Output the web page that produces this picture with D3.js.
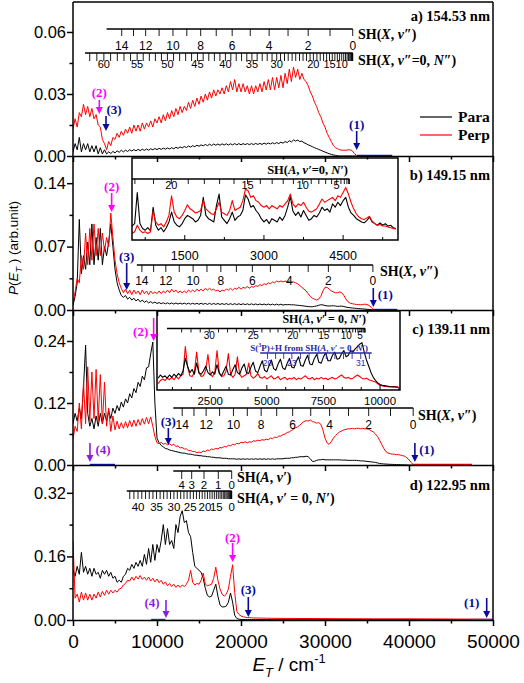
<!DOCTYPE html>
<html><head><meta charset="utf-8">
<script src="https://cdn.jsdelivr.net/npm/d3@7/dist/d3.min.js"></script>
<style>
body{margin:0;background:#fff;}
svg{display:block;}
.num{font-family:"Liberation Sans",Arial,sans-serif;}
.ser{font-family:"Liberation Serif","Times New Roman",serif;font-weight:bold;}
</style></head><body>
<svg id="fig" width="524" height="683"></svg>
<script>
// ---------------- DATA ----------------
// main spectra: step 250 cm-1 starting at 0
const paraA=[.002,.006,.003,.009,.002,.006,.003,.006,.002,.005,.002,.005,.001,.004,.001,.003,.001,.002,.0012,.0022,.0015,.0025,.0018,.0028,.002,.0028,.0022,.003,.0024,.0031,.0025,.0032,.0026,.0033,.0027,.0034,.0028,.0035,.003,.0036,.0031,.0037,.0032,.0038,.0033,.0039,.0034,.004,.0035,.0042,.0037,.0044,.0039,.0046,.0041,.0048,.0043,.005,.0045,.0052,.0047,.0054,.0049,.0056,.005,.0057,.0051,.0058,.0052,.0058,.0052,.0059,.0053,.0059,.0053,.0059,.0054,.006,.0054,.006,.0054,.006,.0055,.006,.0055,.006,.0055,.0061,.0056,.0061,.0056,.0062,.0057,.0063,.0058,.0064,.0059,.0065,.006,.0067,.0062,.007,.0065,.0074,.0068,.0078,.0072,.0077,.007,.0072,.0064,.006,.0054,.005,.0045,.004,.0036,.0032,.0028,.0023,.0019,.0015,.0011,.0008,.0005,.0003,.0001,0,0,0,0,0,0,0,0,0,0];
const perpA=[.013,.018,.014,.021,.019,.025,.020,.024,.019,.023,.018,.020,.015,.014,.008,.006,.003,.007,.005,.009,.008,.011,.009,.012,.010,.013,.011,.014,.011,.015,.012,.015,.012,.016,.013,.016,.014,.017,.014,.018,.016,.019,.016,.020,.017,.021,.018,.022,.019,.023,.020,.024,.021,.024,.022,.026,.023,.027,.024,.028,.025,.029,.026,.030,.027,.031,.028,.032,.029,.032,.030,.033,.030,.034,.031,.036,.032,.037,.031,.035,.031,.035,.031,.034,.030,.034,.030,.034,.031,.035,.031,.036,.032,.037,.032,.038,.032,.038,.033,.039,.033,.040,.035,.042,.036,.043,.038,.042,.037,.040,.037,.036,.034,.031,.029,.026,.024,.021,.019,.016,.014,.011,.009,.007,.005,.004,.0035,.003,.0028,.0028,.0028,.003,.003,.0025,.0012,.0003,0];
const paraB=[.005,.015,.03,.1,.04,.06,.045,.075,.05,.095,.05,.08,.055,.09,.05,.07,.06,.075,.095,.07,.045,.03,.022,.016,.014,.016,.012,.014,.011,.013,.010,.012,.009,.011,.0085,.010,.0078,.0092,.0075,.0088,.0072,.0082,.007,.0080,.0068,.0079,.0067,.0078,.0066,.0077,.0066,.0076,.0065,.0076,.0065,.0075,.0064,.0075,.0064,.0074,.0063,.0074,.0063,.0073,.0062,.0073,.0062,.0072,.0062,.0072,.0061,.0071,.0061,.0071,.006,.007,.006,.007,.006,.0069,.0059,.0069,.0059,.0068,.0058,.0068,.0058,.0067,.0057,.0067,.0057,.0066,.0056,.0066,.0056,.0065,.0055,.0065,.0055,.0064,.0054,.006,.0058,.006,.0057,.0058,.0054,.0052,.005,.0047,.0044,.0041,.0038,.0036,.0036,.004,.0045,.0052,.0058,.0056,.005,.0045,.0044,.0046,.0047,.0044,.004,.0042,.0043,.0038,.0032,.0028,.0025,.0022,.002,.0018,.0016,.0014,.0012,.001,.0008,.0006,.0004,.0001,0];
const perpB=[.008,.02,.035,.03,.06,.045,.085,.05,.09,.055,.095,.06,.09,.06,.085,.065,.08,.07,.107,.08,.055,.04,.03,.024,.019,.023,.018,.022,.017,.022,.018,.021,.017,.022,.018,.021,.017,.021,.018,.02,.018,.021,.018,.021,.019,.022,.019,.023,.02,.022,.019,.021,.019,.021,.019,.022,.02,.022,.02,.023,.021,.023,.021,.024,.022,.024,.022,.023,.021,.022,.02,.022,.021,.023,.022,.024,.022,.024,.023,.025,.023,.025,.024,.026,.024,.026,.025,.027,.026,.028,.027,.029,.028,.030,.029,.031,.03,.032,.031,.032,.031,.032,.031,.032,.031,.031,.03,.029,.027,.025,.023,.021,.018,.015,.013,.012,.011,.012,.015,.021,.025,.025,.023,.021,.02,.019,.019,.02,.019,.016,.012,.009,.0075,.007,.0065,.006,.006,.0058,.006,.0065,.006,.005,.003,.0005,0];
const paraC=[.08,.1,.085,.11,.09,.15,.232,.1,.075,.09,.07,.095,.075,.1,.08,.1,.085,.105,.09,.11,.1,.115,.105,.122,.112,.128,.12,.138,.13,.148,.14,.16,.152,.172,.165,.188,.19,.215,.238,.12,.052,.043,.038,.035,.032,.031,.029,.028,.027,.026,.025,.024,.023,.023,.022,.021,.021,.02,.019,.019,.018,.018,.017,.017,.016,.016,.015,.015,.014,.014,.014,.013,.013,.013,.012,.012,.012,.012,.011,.012,.011,.012,.011,.012,.011,.012,.011,.012,.011,.012,.011,.012,.011,.012,.011,.012,.011,.012,.012,.012,.012,.013,.013,.013,.014,.014,.015,.015,.016,.016,.016,.017,.016,.012,.007,.007,.009,.010,.010,.011,.01,.01,.01,.01,.01,.01,.01,.01,.0095,.0095,.0095,.009,.009,.009,.009,.009,.0085,.008,.008,.0075,.007,.0065,.006,.0055,.005,.004,.003,.0025,.002,.0018,.0015,.0013,.0012,.001,.0009,.0008,.0007,.0006,.0004,.0002,0,0,0];
const perpC=[.05,.075,.065,.12,.07,.16,.08,.19,.085,.18,.09,.185,.085,.175,.08,.16,.075,.11,.065,.095,.068,.085,.07,.082,.071,.084,.072,.086,.074,.087,.075,.088,.077,.09,.079,.092,.08,.093,.075,.055,.043,.041,.044,.04,.042,.039,.041,.038,.04,.036,.037,.033,.034,.031,.031,.028,.028,.026,.026,.024,.025,.024,.027,.026,.029,.028,.031,.03,.032,.031,.034,.033,.036,.035,.038,.037,.04,.039,.042,.041,.044,.043,.045,.043,.045,.044,.047,.046,.048,.047,.049,.048,.05,.049,.052,.051,.054,.053,.056,.056,.059,.06,.063,.064,.067,.069,.072,.074,.077,.081,.084,.086,.085,.087,.084,.083,.081,.082,.079,.068,.052,.043,.040,.045,.052,.057,.061,.064,.066,.068,.069,.07,.07,.071,.07,.071,.071,.07,.071,.07,.07,.069,.066,.064,.06,.055,.048,.04,.032,.026,.023,.022,.021,.021,.02,.02,.019,.018,.017,.014,.01,.005,.0005,0,0];
const paraD=[.125,.11,.135,.115,.17,.12,.135,.115,.13,.11,.13,.115,.12,.105,.125,.115,.125,.11,.12,.105,.11,.095,.1,.095,.11,.115,.13,.125,.14,.13,.145,.135,.15,.135,.165,.14,.18,.145,.19,.15,.19,.17,.2,.24,.19,.23,.19,.2,.18,.24,.22,.26,.275,.245,.25,.22,.21,.17,.135,.13,.125,.12,.105,.08,.062,.058,.06,.075,.09,.06,.038,.033,.033,.035,.045,.068,.045,.012,.004,.002,.0015,.0013,.0012,.0012,.0012,.0012,.0011,.0011,.0011];
const perpD=[.2,.055,.065,.045,.07,.05,.068,.05,.065,.05,.065,.055,.07,.058,.072,.062,.075,.065,.075,.068,.075,.07,.078,.08,.088,.092,.1,.098,.108,.1,.11,.103,.112,.102,.108,.1,.108,.098,.105,.096,.103,.094,.1,.09,.096,.086,.092,.084,.09,.082,.088,.082,.088,.084,.09,.1,.125,.095,.088,.092,.09,.1,.118,.09,.086,.088,.09,.105,.133,.1,.078,.065,.06,.065,.078,.11,.139,.07,.022,.014,.01,.008,.007,.006,.006,.0055,.005,.005,.005];
const tailE=[23000,25000,30000,35000,40000,45000,50000];
const paraDTail=[.001,.001,.001,.0008,.0008,.0008,.0008];
const perpDTail=[.0045,.004,.0035,.003,.003,.0025,.002];
// inset b: 500..5500 step 50 (relative height)
const insParaB=[.17,.20,.58,.20,.14,.12,.15,.11,.40,.18,.12,.15,.10,.15,.22,.34,.22,.18,.16,.20,.26,.30,.28,.26,.22,.24,.30,.52,.30,.26,.24,.22,.42,.56,.28,.24,.20,.26,.34,.24,.28,.30,.36,.55,.50,.40,.42,.36,.32,.26,.22,.25,.20,.26,.24,.22,.28,.24,.30,.40,.53,.35,.30,.34,.28,.36,.30,.24,.26,.30,.28,.33,.40,.36,.38,.34,.44,.40,.46,.42,.48,.52,.40,.33,.30,.26,.24,.22,.21,.24,.28,.22,.20,.18,.21,.18,.20,.17,.18,.15,.14];
const insPerpB=[.08,.10,.18,.12,.09,.10,.08,.10,.35,.22,.18,.20,.16,.22,.30,.54,.34,.28,.26,.30,.36,.43,.38,.36,.33,.34,.36,.48,.38,.35,.32,.31,.38,.46,.34,.32,.30,.36,.48,.36,.38,.40,.48,.62,.60,.52,.54,.48,.46,.42,.40,.42,.38,.42,.40,.38,.42,.40,.44,.48,.56,.44,.40,.44,.42,.46,.40,.35,.34,.36,.38,.44,.50,.46,.48,.50,.52,.48,.54,.52,.58,.64,.56,.46,.38,.32,.28,.26,.25,.27,.29,.23,.20,.18,.19,.17,.17,.16,.15,.14,.13];
// inset c: 200..10800 step 100 (relative height)
const insParaC=[.15,.19,.16,.18,.15,.19,.16,.20,.17,.21,.18,.24,.40,.30,.22,.26,.20,.34,.22,.20,.24,.30,.22,.19,.23,.20,.32,.21,.18,.24,.30,.20,.19,.26,.32,.22,.20,.28,.33,.22,.21,.29,.35,.24,.22,.30,.37,.25,.23,.31,.38,.27,.25,.33,.39,.28,.26,.34,.40,.29,.28,.36,.42,.31,.30,.38,.44,.33,.32,.40,.45,.35,.34,.42,.47,.37,.37,.44,.48,.39,.40,.46,.50,.42,.44,.50,.48,.52,.55,.58,.60,.48,.38,.30,.22,.16,.12,.09,.07,.06,.055,.05,.045,.042,.04,.038,.035];
const insPerpC=[.08,.12,.14,.12,.15,.13,.16,.13,.17,.14,.18,.20,.55,.30,.18,.17,.22,.48,.22,.17,.18,.25,.45,.20,.17,.22,.50,.22,.17,.18,.24,.46,.20,.16,.20,.42,.20,.16,.18,.20,.34,.18,.15,.17,.21,.16,.15,.17,.14,.16,.18,.14,.15,.17,.13,.15,.16,.13,.15,.14,.16,.13,.15,.14,.16,.18,.15,.14,.16,.13,.15,.14,.16,.14,.15,.13,.15,.16,.14,.15,.17,.19,.16,.15,.16,.14,.15,.17,.19,.17,.15,.14,.15,.13,.12,.11,.10,.08,.06,.05,.045,.045,.04,.042,.045,.04,.04];
// level energies (cm-1)
const gX=[0,2700,5300,7700,9950,12200,14350,16250,18100,19750,21400,23050,24650,26100,27500];
const vibLabels=[0,2,4,6,8,10,12,14];
const rotX=[0,24,71,143,238,357,500,667,857,1071,1309,1561,1832,2123,2433,2762,3108,3472,3868,4267,4683,5078,5500,5913,6333,6785,7214,7679,8120,8595,9047,9603,10182,10774,11380,12000,12611,13234,13868,14510,15158,15812,16468,17134,17804,18483,19182,19892,20606,21328,22062,22772,23490,24213,24939,25665,26447,27232,28026,28823,29625,30462,31308];
const rotXLabels=[10,15,20,30,35,40,45,50,55,60];
const rotAb=[0,16,48,97,161,242,338,451,580,724,885,1062,1255,1464,1689,1930,2187,2460,2749,3054,3375,3712,4065];
const rotAbLabels=[5,10,15,20];
const rotA=[0,15,46,91,152,228,319,426,547,684,836,1003,1186,1383,1596,1824,2067,2326,2599,2888,3192,3511,3846,4195,4560,4940,5307,5685,6074,6473,6882,7281,7688,8101,8520,8946,9377,9814,10255,10702,11152,11641,12136];
const rotAcLabels=[5,10,15,20,25,30];
const rotAdLabels=[0,15,20,25,30,35,40];
const gA=[0,1595,3297,4762,5952];
const gALabels=[0,1,2,3,4];
const blueN=[20,21,22,23,24,25,26,27,28,29,30,31,32];
const blueE=[5028,5387,5745,6104,6484,6864,7245,7625,8005,8386,8766,9147,9527];
const blueLabels=[20,23,31];
// origins (N=0 / v=0) per panel
const originX=[33300,35700,40500];
const originAb=4620, originAc=9340, originAd=18893;
// axis ticks
const xMajor=[0,10000,20000,30000,40000,50000];
const xMinor=[5000,15000,25000,35000,45000];
const yMajor=[[0,0.03,0.06],[0,0.07,0.14],[0,0.12,0.24],[0,0.16,0.32]];
const yMinor=[[0.015,0.045],[0.035,0.105],[0.06,0.18],[0.08,0.24]];
const insBMajor=[1500,3000,4500], insBMinor=[750,2250,3750,5250];
const insCMajor=[2500,5000,7500,10000], insCMinor=[833,1667,3333,4167,5833,6667,8333,9167,10833];
const titles=["a) 154.53 nm","b) 149.15 nm","c) 139.11 nm","d) 122.95 nm"];
// arrows: energy, label
const arrowsA=[[3135,"(2)"],[3930,"(3)"],[33770,"(1)"]];
const arrowsB=[[4600,"(2)"],[6390,"(3)"],[35750,"(1)"]];
const arrowsC=[[9600,"(2)"],[11350,"(3)"],[40700,"(1)"],[2020,"(4)"]];
const arrowsD=[[19000,"(2)"],[20870,"(3)"],[49250,"(1)"],[11070,"(4)"]];

// ---------------- DRAW ----------------
const svg=d3.select("#fig");
const x=d3.scaleLinear().domain([0,50000]).range([73,493]);
const layout=[{top:2,bot:156,ymax:0.0745},{top:156,bot:310,ymax:0.17},{top:310,bot:465,ymax:0.30},{top:465,bot:620,ymax:0.39}];
const ys=layout.map(l=>d3.scaleLinear().domain([0,l.ymax]).range([l.bot,l.top]));
const MAG="#ff00ff",NAVY="#0a0a9a",PUR="#8a1ee0",RED="#ff0000";
function series(start,step,vals){return vals.map((v,i)=>[start+i*step,v]);}
function rich(g,xp,yp,parts,cls,fs,anchor,fill){
  const t=g.append("text").attr("x",xp).attr("y",yp).attr("class",cls).attr("font-size",fs)
    .attr("text-anchor",anchor||"start").attr("fill",fill||"#000");
  let shift=0;
  parts.forEach(p=>{
    const s=t.append("tspan").text(p[0]);const m=p[1]||"";
    if(m.includes("i"))s.attr("font-style","italic");
    let tg=0; if(m.includes("b"))tg=fs*0.3; if(m.includes("p"))tg=-fs*0.4;
    if(tg!==shift){s.attr("dy",tg-shift);shift=tg;}
    if(m.includes("b")||m.includes("p"))s.attr("font-size",fs*0.68);
  });
  return t;
}
function drawLine(g,sx,sy,data,color,w){
  g.append("path").datum(data).attr("fill","none").attr("stroke",color).attr("stroke-width",w||1)
   .attr("stroke-linejoin","round").attr("d",d3.line().x(d=>sx(d[0])).y(d=>sy(d[1])));
}
function comb(g,sx,e0,e1,y,ticks,tlen,color){
  g.append("line").attr("x1",sx(e0)).attr("x2",sx(e1)).attr("y1",y).attr("y2",y).attr("stroke",color||"#000").attr("stroke-width",1.6);
  g.selectAll(null).data(ticks).join("line").attr("x1",d=>sx(d)).attr("x2",d=>sx(d)).attr("y1",y).attr("y2",y+tlen)
    .attr("stroke",color||"#000").attr("stroke-width",0.9);
}
function combLabels(g,sx,items,y,fs,color){
  g.selectAll(null).data(items).join("text").attr("class","num").attr("font-size",fs).attr("text-anchor","middle")
   .attr("fill",color||"#000").attr("x",d=>sx(d[1])).attr("y",y).text(d=>d[0]);
}
function arrow(g,xp,y1,y2,color){
  g.append("line").attr("x1",xp).attr("x2",xp).attr("y1",y1).attr("y2",y2-5).attr("stroke",color).attr("stroke-width",1.6);
  g.append("path").attr("d",`M${xp-3.5},${y2-7}L${xp+3.5},${y2-7}L${xp},${y2}Z`).attr("fill",color);
}
function alabel(g,xp,yp,txt,color){
  g.append("text").attr("class","ser").attr("font-size",13).attr("text-anchor","middle").attr("fill",color).attr("x",xp).attr("y",yp).text(txt);
}

const defs=svg.append("defs");
layout.forEach((l,i)=>{
  defs.append("clipPath").attr("id","cp"+i).append("rect").attr("x",73).attr("y",l.top).attr("width",420).attr("height",l.bot-l.top);
});

const mainData=[[paraA,perpA],[paraB,perpB],[paraC,perpC],[paraD,perpD]];
layout.forEach((l,i)=>{
  const g=svg.append("g").attr("clip-path",`url(#cp${i})`);
  let pa=series(0,250,mainData[i][0]), pe=series(0,250,mainData[i][1]);
  if(i===3){ pa=pa.concat(tailE.map((e,k)=>[e,paraDTail[k]])); pe=pe.concat(tailE.map((e,k)=>[e,perpDTail[k]])); }
  drawLine(g,x,ys[i],pa,"#000",1);
  drawLine(g,x,ys[i],pe,RED,1);
});

// zero-level coloured segments
const zseg=[[0,33800,38000,"#1010c0"],[1,35750,38600,"#1010c0"],[2,2000,5000,"#1010c0"],[2,40500,47500,RED],[3,9300,11000,"#3030d0"],[3,47200,50000,"#7030e0"]];
zseg.forEach(z=>{svg.append("line").attr("x1",x(z[1])).attr("x2",x(z[2])).attr("y1",layout[z[0]].bot-0.5).attr("y2",layout[z[0]].bot-0.5).attr("stroke",z[3]).attr("stroke-width",1.4);});

// ---------- insets ----------
// inset b
(function(){
  const bx0=132,bx1=398,by0=158,by1=240;
  const sx=d3.scaleLinear().domain([500,5540]).range([bx0,bx1]);
  const sy=d3.scaleLinear().domain([0,1]).range([by1,by0]);
  const g=svg.append("g");
  g.append("rect").attr("x",bx0).attr("y",by0).attr("width",bx1-bx0).attr("height",by1-by0).attr("fill","#fff");
  drawLine(g,sx,sy,series(500,50,insParaB),"#000",1.1);
  drawLine(g,sx,sy,series(500,50,insPerpB),RED,1.1);
  g.append("rect").attr("x",bx0).attr("y",by0).attr("width",bx1-bx0).attr("height",by1-by0).attr("fill","none").attr("stroke","#000").attr("stroke-width",1.5);
  g.selectAll(null).data(insBMajor).join("line").attr("x1",d=>sx(d)).attr("x2",d=>sx(d)).attr("y1",by1).attr("y2",by1-5).attr("stroke","#000");
  g.selectAll(null).data(insBMinor).join("line").attr("x1",d=>sx(d)).attr("x2",d=>sx(d)).attr("y1",by1).attr("y2",by1-3).attr("stroke","#000");
  combLabels(g,sx,insBMajor.map(d=>[d,d]),260,12.5);
  comb(g,sx,500,originAb,179,rotAb.map(r=>originAb-r),5);
  combLabels(g,sx,rotAbLabels.map(n=>[n,originAb-rotAb[n]]),189,11);
  rich(g,348,174,[["SH("],["A","i"],[", "],["v′","i"],["=0, "],["N′","i"],[")"]],"ser",12.5,"end");
})();
// inset c
(function(){
  const bx0=157,bx1=400,by0=311,by1=390;
  const sx=d3.scaleLinear().domain([150,10880]).range([bx0,bx1]);
  const sy=d3.scaleLinear().domain([0,1]).range([by1,by0]);
  const g=svg.append("g");
  g.append("rect").attr("x",bx0).attr("y",by0).attr("width",bx1-bx0).attr("height",by1-by0).attr("fill","#fff");
  drawLine(g,sx,sy,series(200,100,insPerpC),RED,1.1);
  drawLine(g,sx,sy,series(200,100,insParaC),"#000",1.1);
  g.append("rect").attr("x",bx0).attr("y",by0).attr("width",bx1-bx0).attr("height",by1-by0).attr("fill","none").attr("stroke","#000").attr("stroke-width",1.5);
  g.selectAll(null).data(insCMajor).join("line").attr("x1",d=>sx(d)).attr("x2",d=>sx(d)).attr("y1",by1).attr("y2",by1-5).attr("stroke","#000");
  g.selectAll(null).data(insCMinor).join("line").attr("x1",d=>sx(d)).attr("x2",d=>sx(d)).attr("y1",by1).attr("y2",by1-3).attr("stroke","#000");
  combLabels(g,sx,insCMajor.map(d=>[d,d]),405,11.5);
  comb(g,sx,590,originAc,328.5,rotA.slice(0,34).map(r=>originAc-r),4);
  combLabels(g,sx,rotAcLabels.map(n=>[n,originAc-rotA[n]]),339,10);
  rich(g,366,323,[["SH("],["A","i"],[", "],["v′","i"],[" = 0, "],["N′","i"],[")"]],"ser",12,"end");
  // blue comb
  comb(g,sx,4705,9630,353,blueE,6,"#2828a8");
  combLabels(g,sx,blueLabels.map(n=>[n,blueE[blueN.indexOf(n)]]),366,8.5,"#2828a8");
  rich(g,368,350.5,[["S("],["3","p"],["P)+H from SH("],["A","i"],[", "],["v′","i"],[" = 0, "],["N′","i"],[")"]],"ser",9,"end","#2828a8");
})();

// ---------- axes & frames ----------
layout.forEach((l,i)=>{
  const ax=svg.append("g").attr("transform",`translate(0,${l.bot})`);
  ax.call(d3.axisBottom(x).tickValues(xMajor).tickSize(6).tickSizeOuter(0).tickPadding(9).tickFormat(i===3?d3.format("d"):""));
  const ax2=svg.append("g").attr("transform",`translate(0,${l.bot})`);
  ax2.call(d3.axisBottom(x).tickValues(xMinor).tickSize(3.5).tickSizeOuter(0).tickFormat(""));
  ax2.select(".domain").remove();
  const ay=svg.append("g").attr("transform","translate(73,0)");
  ay.call(d3.axisLeft(ys[i]).tickValues(yMajor[i]).tickSize(6).tickSizeOuter(0).tickPadding(1).tickFormat(d3.format(".2f")));
  const ay2=svg.append("g").attr("transform","translate(73,0)");
  ay2.call(d3.axisLeft(ys[i]).tickValues(yMinor[i]).tickSize(3.5).tickSizeOuter(0).tickFormat(""));
  ay2.select(".domain").remove();
  [ax,ax2,ay,ay2].forEach(a=>{a.selectAll("path,line").attr("stroke","#000").attr("stroke-width",1.5);a.selectAll("text").attr("class","num").attr("fill","#000");});
  ax.selectAll("text").attr("font-size",19);
  ay.selectAll("text").attr("font-size",16.5);
  ay.select(".domain").attr("d",`M0,${l.top}V${l.bot}`);
  svg.append("line").attr("x1",493).attr("x2",493).attr("y1",l.top).attr("y2",l.bot).attr("stroke","#000").attr("stroke-width",1.5);
  svg.append("text").attr("class","ser").attr("font-size",14.5).attr("text-anchor","end").attr("x",490)
     .attr("y",[21,180,334,490][i]).text(titles[i]);
});
svg.append("line").attr("x1",73).attr("x2",493).attr("y1",2).attr("y2",2).attr("stroke","#000").attr("stroke-width",1.5);

// ---------- panel a annotations ----------
(function(){
  const g=svg.append("g"), o=originX[0];
  comb(g,x,o-29300,o,29,gX.map(v=>o-v),7);
  combLabels(g,x,vibLabels.map(v=>[v,o-gX[v]]),50,12);
  rich(g,358,39,[["SH("],["X","i"],[", "],["v″","i"],[")"]],"ser",14);
  comb(g,x,1430,o,53,rotX.map(r=>o-r),8);
  combLabels(g,x,rotXLabels.map(n=>[n,o-rotX[n]]),68,11);
  rich(g,358,65,[["SH("],["X","i"],[", "],["v″","i"],["=0, "],["N″","i"],[")"]],"ser",14);
  // legend
  g.append("line").attr("x1",420).attr("x2",452).attr("y1",117).attr("y2",117).attr("stroke","#000").attr("stroke-width",1.2);
  g.append("line").attr("x1",420).attr("x2",452).attr("y1",135).attr("y2",135).attr("stroke",RED).attr("stroke-width",1.2);
  g.append("text").attr("class","ser").attr("font-size",15.5).attr("x",458).attr("y",122).text("Para");
  g.append("text").attr("class","ser").attr("font-size",15.5).attr("x",458).attr("y",140).text("Perp");
  const a=arrowsA;
  arrow(g,x(a[0][0]),100,114,MAG); alabel(g,x(a[0][0]),97,a[0][1],MAG);
  arrow(g,x(a[1][0]),116,131,NAVY); alabel(g,x(a[1][0])+8,114,a[1][1],NAVY);
  arrow(g,x(a[2][0]),131,150,NAVY); alabel(g,x(a[2][0]),129,a[2][1],NAVY);
})();
// ---------- panel b annotations ----------
(function(){
  const g=svg.append("g"), o=originX[1];
  comb(g,x,o-28100,o,265,gX.map(v=>o-v),7);
  combLabels(g,x,vibLabels.map(v=>[v,o-gX[v]]),285,12);
  rich(g,380,276,[["SH("],["X","i"],[", "],["v″","i"],[")"]],"ser",14);
  const a=arrowsB;
  arrow(g,x(a[0][0]),193,212,MAG); alabel(g,x(a[0][0]),191,a[0][1],MAG);
  arrow(g,x(a[1][0]),263,290,NAVY); alabel(g,x(a[1][0]),261,a[1][1],NAVY);
  arrow(g,x(a[2][0]),288,307,NAVY); alabel(g,x(a[2][0])+12,299,a[2][1],NAVY);
})();
// ---------- panel c annotations ----------
(function(){
  const g=svg.append("g"), o=originX[2];
  comb(g,x,o-28560,o,408,gX.map(v=>o-v),8);
  combLabels(g,x,vibLabels.map(v=>[v,o-gX[v]]),429,12);
  rich(g,418,420,[["SH("],["X","i"],[", "],["v″","i"],[")"]],"ser",14);
  const a=arrowsC;
  arrow(g,x(a[0][0]),318,341,MAG); alabel(g,x(a[0][0])-13,336,a[0][1],MAG);
  arrow(g,x(a[1][0]),428,445,NAVY); alabel(g,x(a[1][0]),426,a[1][1],NAVY);
  arrow(g,x(a[2][0]),443,462,NAVY); alabel(g,x(a[2][0])+12,454,a[2][1],NAVY);
  arrow(g,x(a[3][0]),443,462,PUR); alabel(g,x(a[3][0])+13,454,a[3][1],PUR);
})();
// ---------- panel d annotations ----------
(function(){
  const g=svg.append("g"), o=originAd;
  comb(g,x,11940,o,471,gA.map(v=>o-v),8);
  combLabels(g,x,gALabels.map(v=>[v,o-gA[v]]),489,11.5);
  rich(g,237,482,[["SH("],["A","i"],[", "],["v′","i"],[")"]],"ser",14);
  comb(g,x,6400,o,491,rotA.map(r=>o-r),8);
  combLabels(g,x,rotAdLabels.map(n=>[n,o-rotA[n]]),511,11.5);
  rich(g,237,503,[["SH("],["A","i"],[", "],["v′","i"],[" = 0, "],["N′","i"],[")"]],"ser",14);
  const a=arrowsD;
  arrow(g,x(a[0][0]),543,562,MAG); alabel(g,x(a[0][0]),542,a[0][1],MAG);
  arrow(g,x(a[1][0]),597,617,NAVY); alabel(g,x(a[1][0]),594,a[1][1],NAVY);
  arrow(g,x(a[2][0]),598,618,NAVY); alabel(g,x(a[2][0])-15,607,a[2][1],NAVY);
  arrow(g,x(a[3][0]),600,618,PUR); alabel(g,x(a[3][0])-14,607,a[3][1],PUR);
})();

// axis titles
rich(svg,289,671,[["E","i"],["T","ib"],[" / cm"],["-1","p"]],"num",19,"middle");
const yt=svg.append("g").attr("transform","translate(18,248) rotate(-90)");
rich(yt,0,0,[["P","i"],["("],["E","i"],["T","ib"],[" ) (arb.unit)"]],"num",13.5,"middle");
</script></body></html>
